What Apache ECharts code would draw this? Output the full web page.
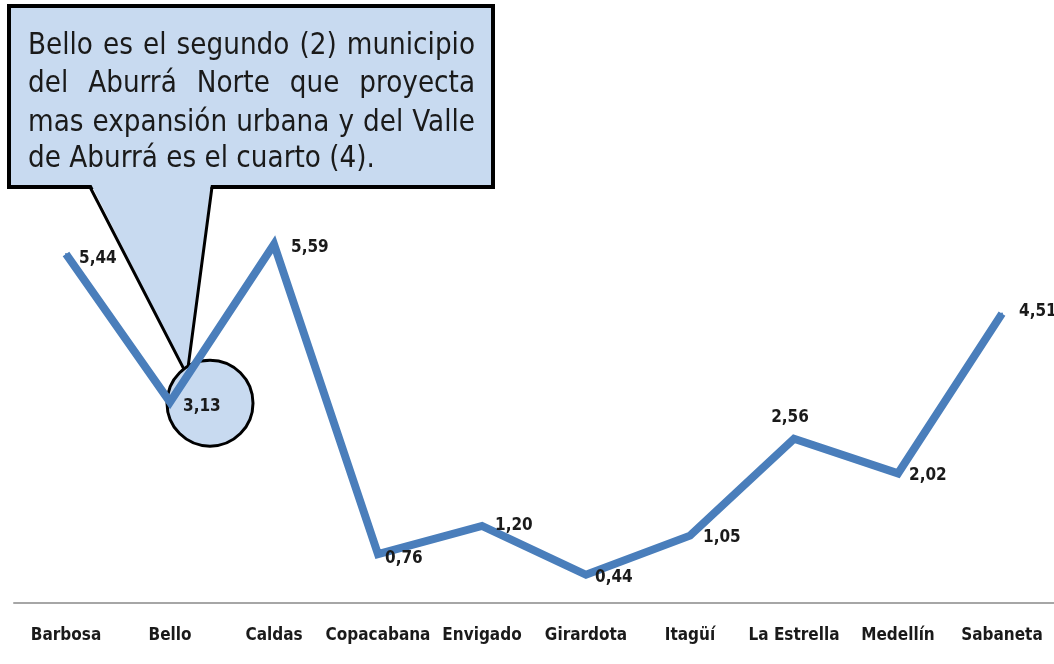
<!DOCTYPE html>
<html>
<head>
<meta charset="utf-8">
<script src="https://cdn.jsdelivr.net/npm/echarts@6/dist/echarts.min.js"></script>
<style>
  html, body { margin: 0; padding: 0; background: #ffffff; }
  #chart { width: 1054px; height: 664px; }
</style>
</head>
<body>
<div id="chart"></div>
<script>
// Municipios del Valle de Aburrá y su expansión urbana proyectada
const municipios = ['Barbosa', 'Bello', 'Caldas', 'Copacabana', 'Envigado', 'Girardota', 'Itagüí', 'La Estrella', 'Medellín', 'Sabaneta'];
const expansion = [5.44, 3.13, 5.59, 0.76, 1.20, 0.44, 1.05, 2.56, 2.02, 4.51];

// Nota destacada sobre Bello
const destacado = 'Bello';
const notaLineas = [
  'Bello es el segundo (2) municipio',
  'del Aburrá Norte que proyecta',
  'mas expansión urbana y del Valle',
  'de Aburrá es el cuarto (4).'
];

const narrow = '"Liberation Sans Narrow", "Arial Narrow", "DejaVu Sans Condensed", "Noto Sans", sans-serif';
const lineColor = '#4a7ebb';
const noteFill = '#c8daf0';
const fmt = v => v.toFixed(2).replace('.', ',');

// label placement per municipio: [position, offset]
const labelPlacement = {
  'Barbosa': ['right', [2, 5]],
  'Bello': ['right', [2, 4]],
  'Caldas': ['right', [6, 3]],
  'Copacabana': ['right', [-4, 4]],
  'Envigado': ['right', [2, 0]],
  'Girardota': ['right', [-2, 3]],
  'Itagüí': ['right', [2, 2]],
  'La Estrella': ['top', [-4, -2]],
  'Medellín': ['right', [0, 2]],
  'Sabaneta': ['right', [6, -2]]
};

const chart = echarts.init(document.getElementById('chart'), null, { renderer: 'canvas' });

chart.setOption({
  animation: false,
  backgroundColor: '#ffffff',
  grid: { left: 14, top: 218, width: 1042, height: 385 },
  xAxis: {
    type: 'category',
    data: municipios,
    boundaryGap: true,
    axisLine: { show: true, lineStyle: { color: '#a6a6a6', width: 2 } },
    axisTick: { show: false },
    axisLabel: {
      interval: 0,
      margin: 24,
      fontFamily: narrow,
      fontWeight: 'bold',
      fontSize: 17,
      color: '#1a1a1a'
    },
    splitLine: { show: false }
  },
  yAxis: { type: 'value', min: 0, max: 6, show: false },
  series: [{
    type: 'line',
    z: 3,
    data: expansion.map((v, i) => {
      const p = labelPlacement[municipios[i]];
      return { value: v, label: { position: p[0], offset: p[1] } };
    }),
    symbol: 'circle',
    symbolSize: 2,
    itemStyle: { color: lineColor },
    lineStyle: { color: lineColor, width: 8, join: 'miter', cap: 'butt' },
    label: {
      show: true,
      distance: 10,
      formatter: p => fmt(p.value),
      fontFamily: narrow,
      fontWeight: 'bold',
      fontSize: 17,
      color: '#1a1a1a'
    }
  }]
});

// --- callout note (box, pointer and circle around the highlighted point) ---
const idx = municipios.indexOf(destacado);
const pt = chart.convertToPixel({ seriesIndex: 0 }, [idx, expansion[idx]]);

const noteFamily = '"Liberation Sans Narrow", "Arial Narrow", "DejaVu Sans Condensed", "Noto Sans", sans-serif';
const ctx = document.createElement('canvas').getContext('2d');
function measure(txt, size) {
  ctx.font = size + 'px ' + noteFamily;
  return ctx.measureText(txt).width;
}
// size the note text so the last line spans about 347px
let noteSize = 28 * 347 / measure(notaLineas[3], 28);
noteSize = Math.max(20, Math.min(32, noteSize));

const box = { x: 9, y: 6, w: 484, h: 181 };
const textLeft = 28, textRight = 475;
const lineMid = [46, 84, 123, 159];

const elements = [];
elements.push({
  type: 'rect', z: 0,
  shape: { x: box.x, y: box.y, width: box.w, height: box.h },
  style: { fill: noteFill, stroke: '#000000', lineWidth: 4 }
});

const tip = [pt[0] + 17, pt[1] - 27];
const baseL = [90, box.y + box.h];
const baseR = [212, box.y + box.h];
elements.push({
  type: 'polygon', z: 1,
  shape: { points: [[baseL[0] + 1, baseL[1] - 3], [baseR[0] - 1, baseR[1] - 3], tip] },
  style: { fill: noteFill, stroke: null }
});
elements.push({
  type: 'polyline', z: 1,
  shape: { points: [baseL, tip, baseR] },
  style: { stroke: '#000000', lineWidth: 3, fill: null }
});

// circle around the highlighted point
elements.push({
  type: 'circle', z: 1,
  shape: { cx: pt[0] + 40, cy: pt[1] + 1, r: 43 },
  style: { fill: noteFill, stroke: '#000000', lineWidth: 3 }
});

// justified note text
notaLineas.forEach((line, li) => {
  const words = line.split(' ');
  const last = li === notaLineas.length - 1;
  const widths = words.map(w => measure(w, noteSize));
  const total = widths.reduce((a, b) => a + b, 0);
  const gap = last ? measure(' ', noteSize) : (textRight - textLeft - total) / (words.length - 1);
  let x = textLeft;
  words.forEach((w, wi) => {
    elements.push({
      type: 'text', z: 2,
      x: x, y: lineMid[li],
      style: {
        text: w,
        fontFamily: noteFamily,
        fontSize: noteSize,
        fill: '#1a1a1a',
        align: 'left',
        verticalAlign: 'middle'
      }
    });
    x += widths[wi] + gap;
  });
});

chart.setOption({ graphic: { elements: elements } });
</script>
</body>
</html>
